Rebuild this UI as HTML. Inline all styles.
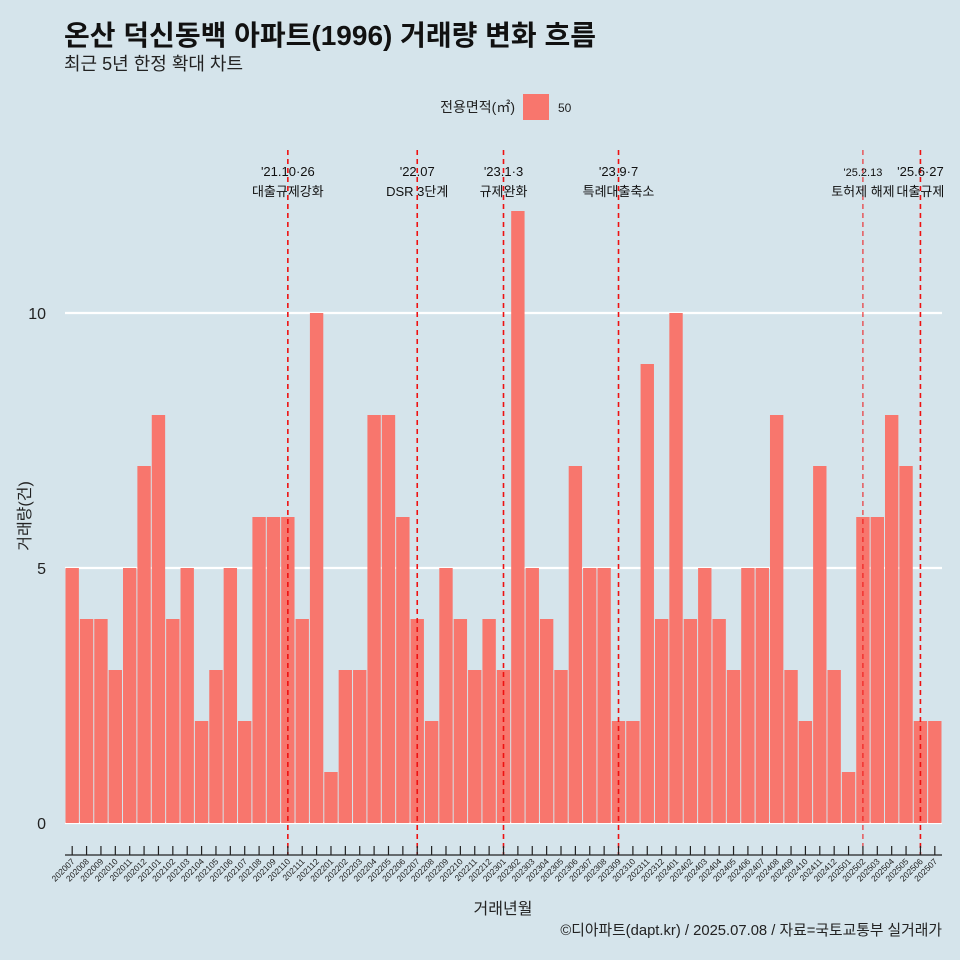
<!DOCTYPE html>
<html><head><meta charset="utf-8"><style>
body{margin:0;background:#d5e4eb;}
svg{display:block;font-family:"Liberation Sans","Noto Sans CJK KR",sans-serif;}
</style></head><body>
<svg id="c" width="960" height="960">
<rect width="960" height="960" fill="#d5e4eb"/>
<text x="64" y="45" font-size="28" font-weight="bold" fill="#111">온산 덕신동백 아파트(1996) 거래량 변화 흐름</text>
<text x="64" y="70" font-size="18" fill="#222">최근 5년 한정 확대 차트</text>
<text x="515" y="112" font-size="14" text-anchor="end" fill="#222">전용면적(㎡)</text>
<rect x="523" y="94" width="26" height="26" fill="#f8766d"/>
<text x="558" y="112" font-size="12" fill="#222">50</text>
<g id="grid"></g><g id="bars"></g><g id="events"></g><g id="xaxis"></g>
<text x="14" y="500" font-size="16" fill="#222" text-anchor="middle" transform="rotate(-90 30 500)">거래량(건)</text>
<text x="503" y="914" font-size="16" fill="#222" text-anchor="middle">거래년월</text>
<text x="942" y="935" font-size="14.8" fill="#222" text-anchor="end">©디아파트(dapt.kr) / 2025.07.08 / 자료=국토교통부 실거래가</text>
</svg>
<script>
const months=["202007","202008","202009","202010","202011","202012","202101","202102","202103","202104","202105","202106","202107","202108","202109","202110","202111","202112","202201","202202","202203","202204","202205","202206","202207","202208","202209","202210","202211","202212","202301","202302","202303","202304","202305","202306","202307","202308","202309","202310","202311","202312","202401","202402","202403","202404","202405","202406","202407","202408","202409","202410","202411","202412","202501","202502","202503","202504","202505","202506","202507"];
const counts=[5,4,4,3,5,7,8,4,5,2,3,5,2,6,6,6,4,10,1,3,3,8,8,6,4,2,5,4,3,4,3,12,5,4,3,7,5,5,2,2,9,4,10,4,5,4,3,5,5,8,3,2,7,3,1,6,6,8,7,2,2];
const yTicks=[0,5,10];
const eventMonths=["202110","202207","202301","202309","202502","202506"];
const eventDates=["'21.10·26","'22.07","'23.1·3","'23.9·7","'25.2.13","'25.6·27"];
const eventLabels=["대출규제강화","DSR 3단계","규제완화","특례대출축소","토허제 해제","대출규제"];
const NS="http://www.w3.org/2000/svg";
const X0=65,X1=942,Y0=823,PX=51;
const bw=(X1-X0)/months.length;
const x=i=>X0+i*bw, y=v=>Y0-v*PX;
function mk(p,t,a){const e=document.createElementNS(NS,t);for(const k in a)e.setAttribute(k,a[k]);document.getElementById(p).appendChild(e);return e;}
yTicks.forEach(t=>{
 const l=mk("grid","line",{x1:X0,x2:X1,y1:y(t),y2:y(t),stroke:"#fff","stroke-width":2.2});
 
 
 const tx=mk("grid","text",{x:46,y:y(t)+6,"font-size":16,"text-anchor":"end",fill:"#222"});tx.textContent=t;
 
 
});
counts.forEach((v,i)=>{
 const r=mk("bars","rect",{x:x(i)+0.5,y:y(v),width:bw-1,height:v*PX,fill:"#f8766d"});
 
 
});
mk("xaxis","line",{x1:X0,x2:X1,y1:855,y2:855,stroke:"#222","stroke-width":1.2});
months.forEach((m,i)=>{
 const cx=x(i)+bw/2;
 mk("xaxis","line",{x1:cx,x2:cx,y1:846,y2:855,stroke:"#222","stroke-width":1.2});
 const t=mk("xaxis","text",{x:cx+3,y:862,"font-size":8.5,"text-anchor":"end",fill:"#222",transform:`rotate(-45 ${cx+3} 862)`});
 t.textContent=m;
 
 
});
eventMonths.forEach((m,k)=>{
 const i=months.indexOf(m);const cx=x(i)+bw/2;
 const thin=k==4;
 const l=mk("events","line",{x1:cx,x2:cx,y1:150,y2:855,stroke:"#ee1111","stroke-width":thin?1:1.6,"stroke-dasharray":"5,4"});
 
 
 const t1=mk("events","text",{x:cx,y:176,"font-size":thin?11:13,"text-anchor":"middle",fill:"#111"});t1.textContent=eventDates[k];
 
 
 const t2=mk("events","text",{x:cx,y:196,"font-size":13,"text-anchor":"middle",fill:"#111"});t2.textContent=eventLabels[k];
 
 
});
</script>
</body></html>
